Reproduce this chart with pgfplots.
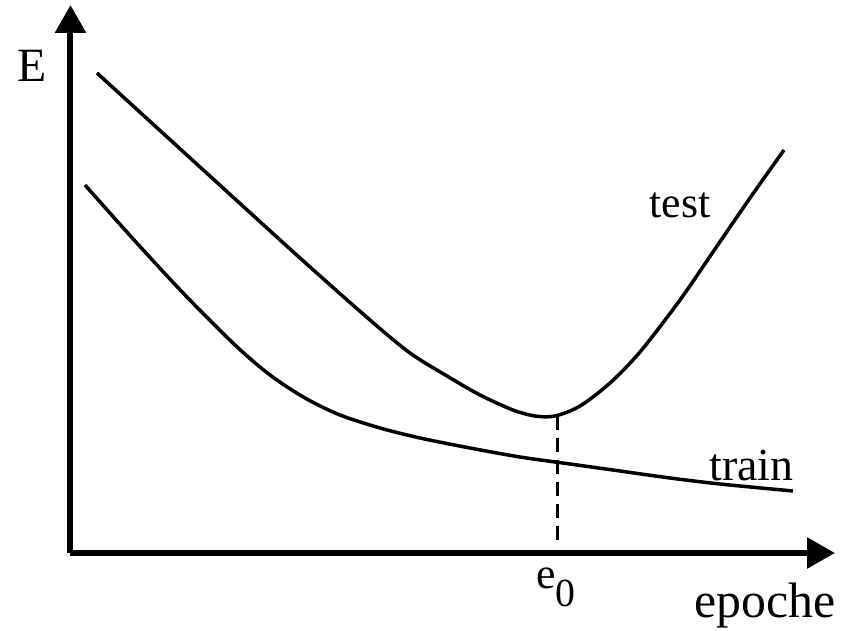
\documentclass[border=0pt]{standalone}
\usepackage{pgfplots}
\pgfplotsset{compat=1.18}
\usetikzlibrary{arrows.meta}
\usepackage{fontspec}
\setmainfont{Liberation Serif}
\begin{document}
\begin{tikzpicture}
\begin{axis}[
  x=1bp, y=1bp,
  xmin=70.5, xmax=835, ymin=77, ymax=625,
  axis lines=left,
  axis line style={line width=6bp, -{Triangle[length=28bp,width=30bp]}},
  xtick=\empty, ytick=\empty,
  clip=false,
]
\path (axis cs:0,0) rectangle (axis cs:854,630);
% test curve
\addplot[black, line width=3.5bp, smooth, tension=0.5] coordinates {
(97,557) (200,463) (300,372) (370,310) (410,277) (447,254) (480,235) (513,220) (535,214)
(555,214) (580,224) (610,247) (640,278) (680,330) (715,381) (750,432) (784,480)
};
% train curve
\addplot[black, line width=3.5bp, smooth, tension=0.5] coordinates {
(85,445) (135,389) (185,335) (235,285) (270,255) (305,232) (340,215) (380,202)
(420,192) (470,182) (520,173) (570,166) (620,159) (670,152) (720,146) (793,139)
};
% dashed line at e0
\addplot[black, line width=3bp, dash pattern=on 14bp off 8bp] coordinates {(557,214) (557,90)};
\node[anchor=base, font=\fontsize{48}{48}\selectfont] at (axis cs:32,548) {E};
\node[anchor=base, font=\fontsize{50}{50}\selectfont] at (axis cs:765,13) {epoche};
\node[anchor=base west, font=\fontsize{46}{46}\selectfont] at (axis cs:706,150) {train};
\node[anchor=base west, font=\fontsize{44}{44}\selectfont] at (axis cs:646,412) {test};
\node[anchor=base west, font=\fontsize{44}{44}\selectfont, inner sep=0pt] at (axis cs:536,42) {e\raisebox{-0.42em}{\fontsize{40}{40}\selectfont 0}};
\end{axis}
\end{tikzpicture}
\end{document}
